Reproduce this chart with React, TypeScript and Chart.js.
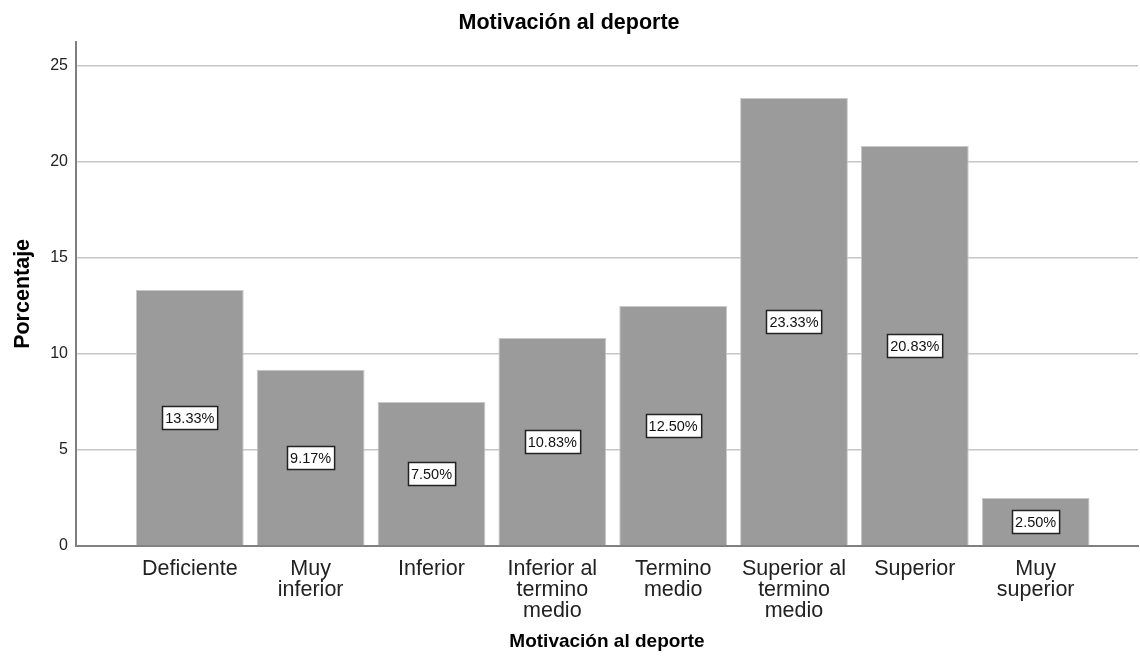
import React, { useEffect, useRef } from "react";
import { Chart, registerables } from "chart.js";

Chart.register(...registerables);

// Motivación al deporte — porcentaje por categoría
const categories: string[][] = [
  ["Deficiente"],
  ["Muy", "inferior"],
  ["Inferior"],
  ["Inferior al", "termino", "medio"],
  ["Termino", "medio"],
  ["Superior al", "termino", "medio"],
  ["Superior"],
  ["Muy", "superior"],
];
const percentages: number[] = [13.33, 9.17, 7.5, 10.83, 12.5, 23.33, 20.83, 2.5];
const yTickValues: number[] = [0, 5, 10, 15, 20, 25];

const FONT = "'Liberation Sans', Arial, Helvetica, sans-serif";

// White value boxes centred in each bar
const valueBoxes = {
  id: "valueBoxes",
  afterDatasetsDraw(chart: any) {
    const ctx = chart.ctx as CanvasRenderingContext2D;
    const meta = chart.getDatasetMeta(0);
    ctx.save();
    ctx.font = `14.5px ${FONT}`;
    ctx.textAlign = "center";
    ctx.textBaseline = "middle";
    meta.data.forEach((bar: any, i: number) => {
      const text = percentages[i].toFixed(2) + "%";
      const w = ctx.measureText(text).width + 6;
      const h = 23;
      const cx = bar.x;
      const cy = (bar.y + bar.base) / 2;
      const x0 = Math.round(cx - w / 2) + 0.5;
      const y0 = Math.round(cy - h / 2) + 0.5;
      ctx.fillStyle = "#ffffff";
      ctx.fillRect(x0, y0, w, h);
      ctx.strokeStyle = "#222222";
      ctx.lineWidth = 1.5;
      ctx.strokeRect(x0, y0, w, h);
      ctx.fillStyle = "#111111";
      ctx.fillText(text, cx, cy + 1);
    });
    ctx.restore();
  },
};

export default function App() {
  const canvasRef = useRef<HTMLCanvasElement | null>(null);

  useEffect(() => {
    if (!canvasRef.current) return;
    const chart = new Chart(canvasRef.current, {
      type: "bar",
      data: {
        datasets: [
          {
            label: "Porcentaje",
            data: percentages.map((v, i) => ({ x: i, y: v })),
            backgroundColor: "#9b9b9b",
            borderColor: "#c9c9c9",
            borderWidth: 1,
            categoryPercentage: 1,
            barPercentage: 0.892,
          },
        ],
      },
      plugins: [valueBoxes],
      options: {
        responsive: false,
        animation: false,
        devicePixelRatio: 1,
        layout: { padding: { left: 0, right: 2, top: 0, bottom: 0 } },
        plugins: {
          legend: { display: false },
          tooltip: { enabled: false },
          title: {
            display: true,
            text: "Motivación al deporte",
            color: "#000000",
            font: { family: FONT, size: 21.5, weight: "bold", lineHeight: 1.2 },
            padding: { top: 10, bottom: 6 },
          },
        },
        scales: {
          x: {
            type: "linear",
            offset: false,
            min: -0.942,
            max: 7.847,
            afterBuildTicks: (scale: any) => {
              scale.ticks = categories.map((_, i) => ({ value: i }));
            },
            afterFit: (scale: any) => {
              scale.height = 121;
            },
            grid: { display: false, drawTicks: false },
            border: { display: true, color: "#808080", width: 2 },
            ticks: {
              autoSkip: false,
              maxRotation: 0,
              minRotation: 0,
              padding: 13,
              color: "#222222",
              font: { family: FONT, size: 21.5, lineHeight: 0.97 },
              callback: (value: any) => categories[Number(value)] ?? "",
            },
            title: {
              display: true,
              text: "Motivación al deporte",
              color: "#000000",
              font: { family: FONT, size: 19, weight: "bold", lineHeight: 1.2 },
              padding: { top: 0, bottom: 13.6 },
            },
          },
          y: {
            min: 0,
            max: 26.25,
            afterBuildTicks: (scale: any) => {
              scale.ticks = yTickValues.map((v) => ({ value: v }));
            },
            afterFit: (scale: any) => {
              scale.width = 76;
            },
            grid: { color: "#c6c6c6", lineWidth: 1.5, drawTicks: false },
            border: { display: true, color: "#808080", width: 2 },
            ticks: {
              padding: 8,
              color: "#222222",
              font: { family: FONT, size: 16 },
            },
            title: {
              display: true,
              text: "Porcentaje",
              color: "#000000",
              font: { family: FONT, size: 21.5, weight: "bold", lineHeight: 1.2 },
              padding: { top: 10, bottom: 0 },
            },
          },
        },
      },
    } as any);
    return () => chart.destroy();
  }, []);

  return (
    <div style={{ position: "absolute", left: 0, top: 0, width: 1140, height: 667, background: "#ffffff" }}>
      <canvas ref={canvasRef} width={1140} height={667} />
    </div>
  );
}
